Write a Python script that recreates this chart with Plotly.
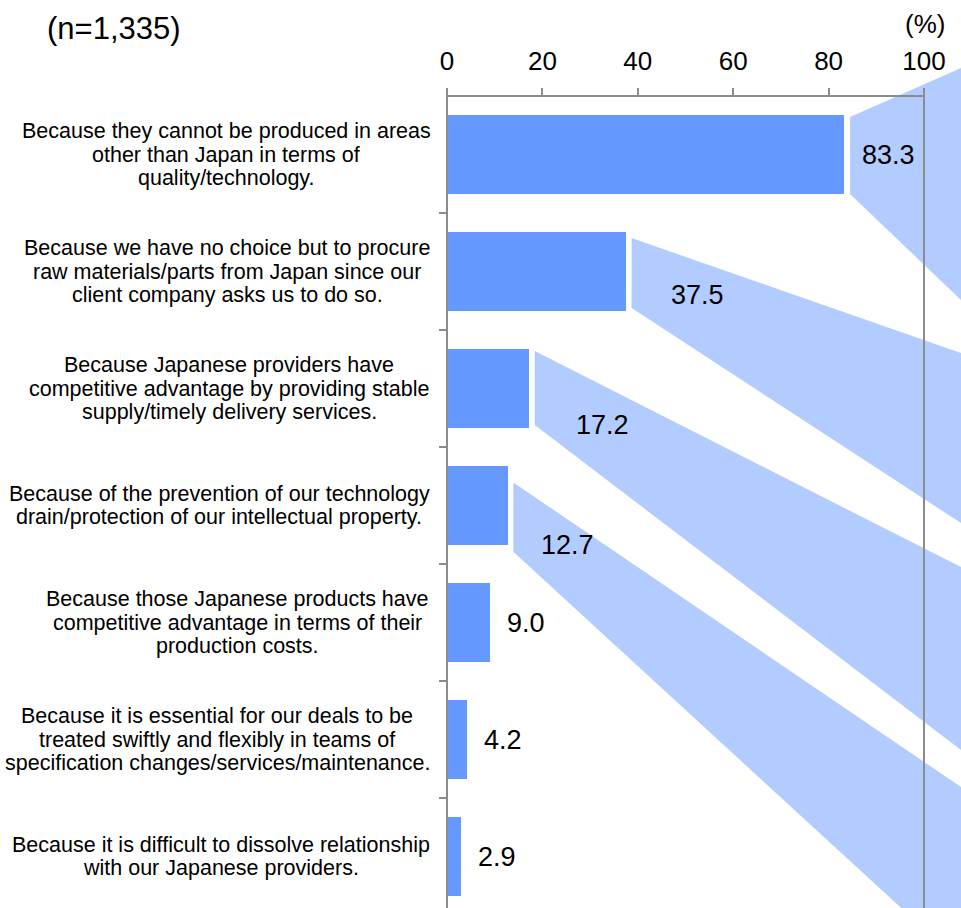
import plotly.graph_objects as go

# ---- data -----------------------------------------------------------------
reasons = [
    ["Because they cannot be produced in areas", "other than Japan in terms of", "quality/technology."],
    ["Because we have no choice but to procure", "raw materials/parts from Japan since our", "client company asks us to do so."],
    ["Because Japanese providers have", "competitive advantage by providing stable", "supply/timely delivery services."],
    ["Because of the prevention of our technology", "drain/protection of our intellectual property."],
    ["Because those Japanese products have", "competitive advantage in terms of their", "production costs."],
    ["Because it is essential for our deals to be", "treated swiftly and flexibly in teams of", "specification changes/services/maintenance."],
    ["Because it is difficult to dissolve relationship", "with our Japanese providers."],
]
shares = [83.3, 37.5, 17.2, 12.7, 9.0, 4.2, 2.9]
x_ticks = [0, 20, 40, 60, 80, 100]
sample_note = "(n=1,335)"
unit_note = "(%)"

# ---- layout geometry (pixels) --------------------------------------------
W, H = 961, 908
LEFT = 447            # left edge of the plotting area
AXIS_TOP = 96         # y pixel of the top value axis
ROW = 117             # pixel height of one category row
X_MAX = 100 * (W - LEFT) / 477.0   # 100% sits at x = 924 px
Y_TOP = (0 - (AXIS_TOP + ROW / 2)) / ROW
Y_BOT = (H - (AXIS_TOP + ROW / 2)) / ROW

FONT = "Liberation Sans, Arial, Helvetica, sans-serif"
BAR = "#6699FF"
SHADE = "#B3CCFF"
GREY = "#8C8C8C"


def px_x(px):
    return (px - LEFT) / (W - LEFT)


def px_y(py):
    return 1 - py / H


pos = list(range(len(shares)))

fig = go.Figure()
fig.add_trace(go.Bar(
    x=shares, y=pos, orientation="h", width=0.68,
    marker=dict(color=BAR, line=dict(width=0)),
    hoverinfo="skip", showlegend=False,
))

# light-blue fan behind the four largest bars
fan = [  # (left top, left bottom, right top, right bottom) in row units
    (-0.32, 0.338, -0.739, 1.244),
    (-0.286, 0.312, 0.697, 2.15),
    (-0.32, 0.312, 1.526, 3.09),
    (-0.197, 0.396, 2.406, 3.909),
]
shapes = []
for i, (lt, lb, rt, rb) in enumerate(fan):
    x0 = shares[i] + 1.2
    path = (f"M {x0},{i + lt} L {X_MAX},{i + rt} L {X_MAX},{i + rb} "
            f"L {x0},{i + lb} Z")
    shapes.append(dict(type="path", path=path, xref="x", yref="y",
                       fillcolor=SHADE, line=dict(width=0), layer="below"))

axis_y = px_y(AXIS_TOP)
# top value axis line, left category axis line, 100% reference line
shapes.append(dict(type="line", xref="x", yref="paper", x0=0, x1=100,
                   y0=axis_y, y1=axis_y, line=dict(color=GREY, width=2), layer="above"))
shapes.append(dict(type="line", xref="paper", yref="paper", x0=0, x1=0,
                   y0=0, y1=axis_y, line=dict(color=GREY, width=2), layer="above"))
shapes.append(dict(type="line", xref="x", yref="paper", x0=100, x1=100,
                   y0=0, y1=axis_y, line=dict(color=GREY, width=2), layer="above"))

annotations = []
# category labels, one line per annotation for tight line spacing
label_centres = [226, 227, 229, 219, 237, 217, 221]
LINE = 23.5
for i, lines in enumerate(reasons):
    n = len(lines)
    for j, line in enumerate(lines):
        annotations.append(dict(
            text=line, xref="paper", x=px_x(label_centres[i]), xanchor="center",
            yref="y", y=i, yanchor="middle", yshift=((n - 1) / 2 - j) * LINE,
            showarrow=False, font=dict(family=FONT, size=21.5, color="black"),
        ))

# value labels
inside_offsets = [(9.2, 0.0), (15.0, 0.2), (15.3, 0.31), (12.5, 0.34)]
for i, v in enumerate(shares):
    txt = f"{v:.1f}"
    if i < len(inside_offsets):
        dx, dy = inside_offsets[i]
        annotations.append(dict(text=txt, xref="x", x=v + dx, xanchor="center",
                                yref="y", y=i + dy, yanchor="middle", showarrow=False,
                                font=dict(family=FONT, size=27, color="black")))
    else:
        annotations.append(dict(text=txt, xref="x", x=v, xanchor="left", xshift=15,
                                yref="y", y=i, yanchor="middle", showarrow=False,
                                font=dict(family=FONT, size=27, color="black")))

annotations.append(dict(text=sample_note, xref="paper", x=px_x(114), xanchor="center",
                        yref="paper", y=px_y(28), yanchor="middle", showarrow=False,
                        font=dict(family=FONT, size=31, color="black")))
annotations.append(dict(text=unit_note, xref="paper", x=px_x(925), xanchor="center",
                        yref="paper", y=px_y(24), yanchor="middle", showarrow=False,
                        font=dict(family=FONT, size=26, color="black")))

fig.update_layout(
    width=W, height=H,
    margin=dict(l=LEFT, r=0, t=0, b=0),
    paper_bgcolor="white", plot_bgcolor="white",
    bargap=0,
    shapes=shapes, annotations=annotations,
    xaxis=dict(
        range=[0, X_MAX], side="top", anchor="free", position=axis_y,
        tickvals=x_ticks, ticktext=[str(t) for t in x_ticks],
        ticks="outside", ticklen=8, tickwidth=2, tickcolor=GREY,
        showline=False, showgrid=False, zeroline=False,
        tickfont=dict(family=FONT, size=26, color="black"),
        ticklabelstandoff=8, fixedrange=True,
    ),
    yaxis=dict(
        range=[Y_BOT, Y_TOP],
        tickvals=[k + 0.5 for k in range(len(shares) - 1)],
        ticks="outside", ticklen=7, tickwidth=2, tickcolor=GREY,
        showticklabels=False, showline=False, showgrid=False, zeroline=False,
        fixedrange=True,
    ),
    showlegend=False,
)

fig.write_html("out.html")
